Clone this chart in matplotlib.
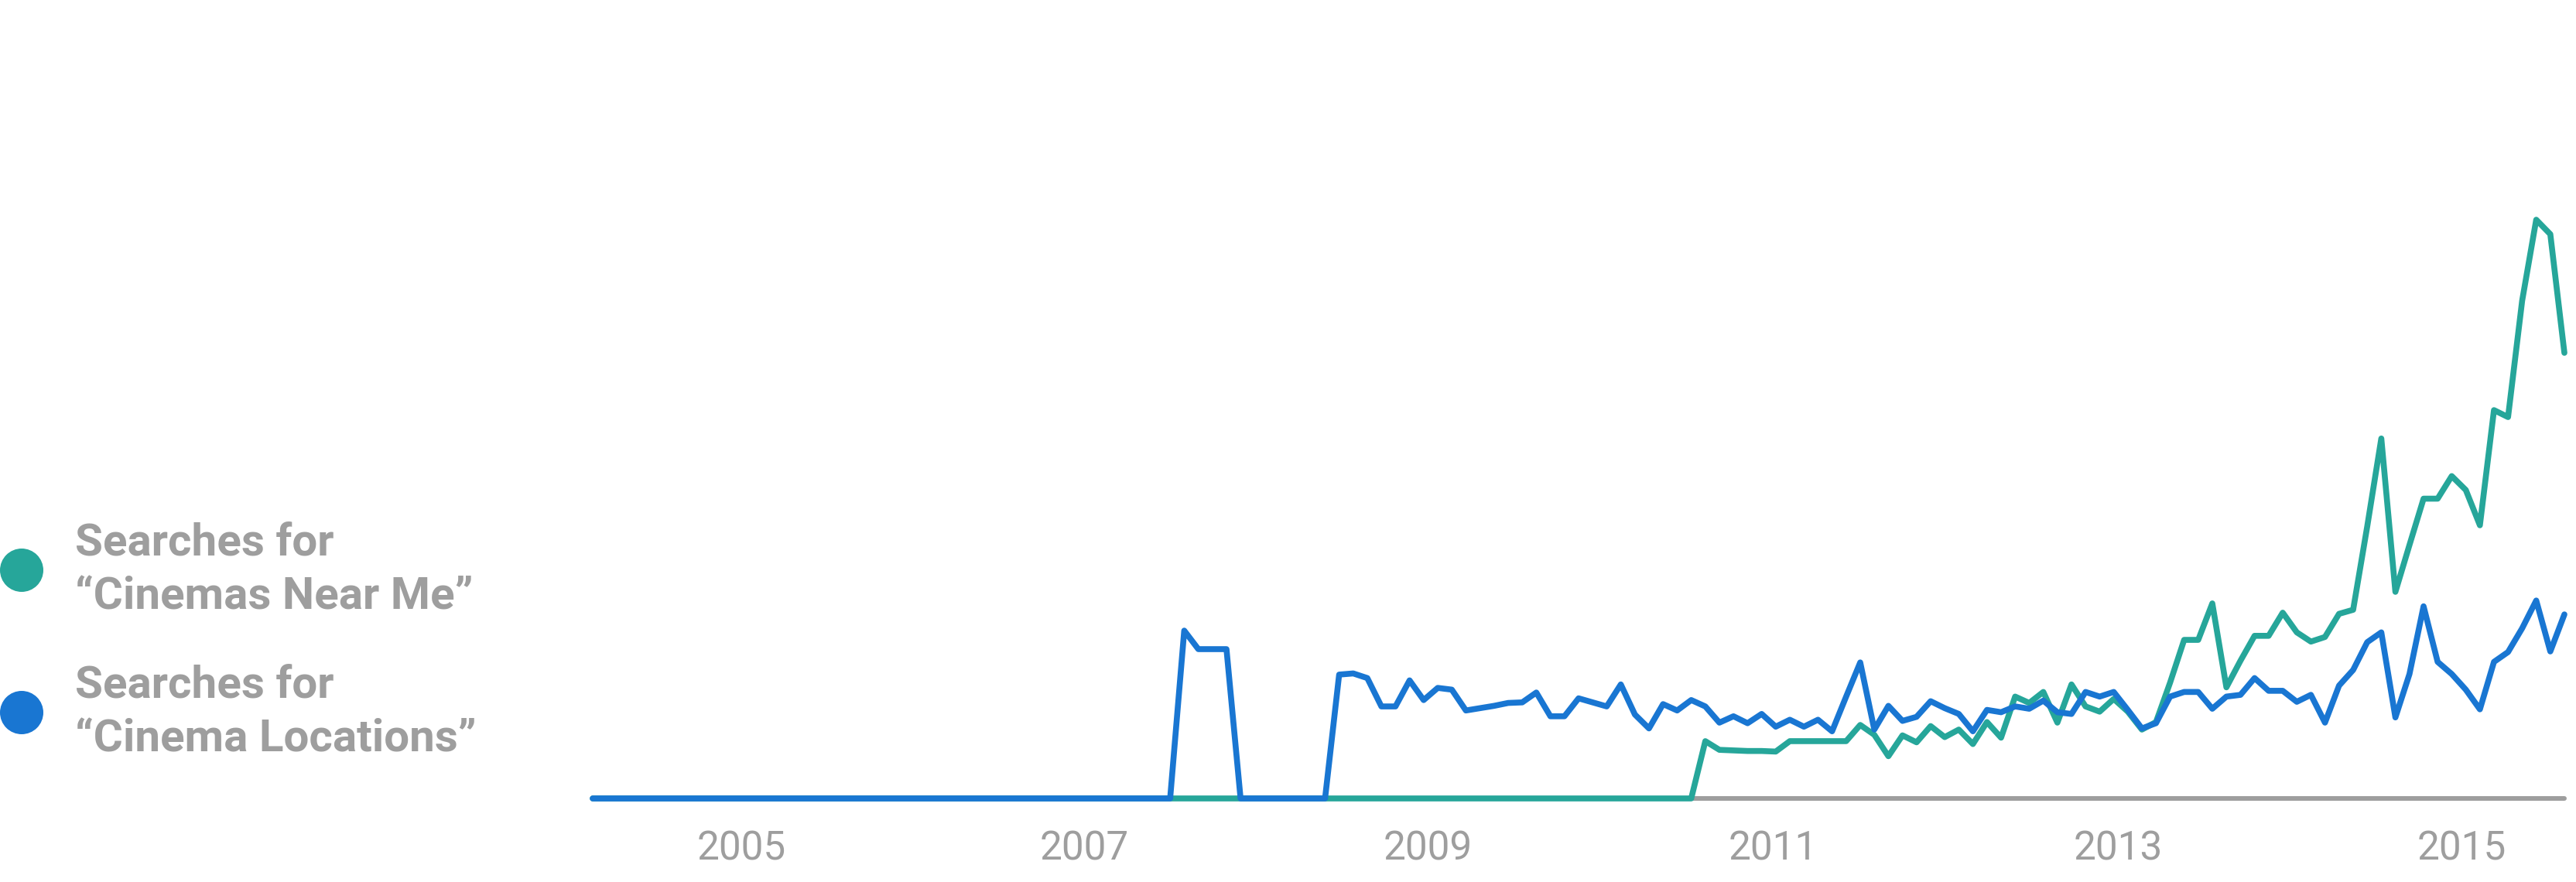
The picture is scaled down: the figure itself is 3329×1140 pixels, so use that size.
import matplotlib
matplotlib.use("Agg")
import matplotlib.pyplot as plt
from matplotlib.patches import Circle
import numpy as np

# ---------------- data (monthly index, 0 = first month shown) ----------------
cinema_locations = [0.0] * 42 + [
    29.0, 25.8, 25.8, 25.8, 0.0, 0.0, 0.0, 0.0, 0.0, 0.0, 0.0,          # 42-52
    21.4, 21.6, 20.8, 15.9, 15.9, 20.4, 17.0, 19.1, 18.8, 15.2,          # 53-62
    15.6, 16.0, 16.5, 16.6, 18.3, 14.2, 14.2, 17.3, 16.6, 15.9,          # 63-72
    19.7, 14.5, 12.1, 16.3, 15.2, 17.0, 15.9, 13.1, 14.2, 13.0,          # 73-82
    14.6, 12.4, 13.6, 12.4, 13.6, 11.6, 17.6, 23.5, 11.9, 16.0,          # 83-92
    13.4, 14.1, 16.8, 15.6, 14.6, 11.6, 15.3, 14.9, 15.9, 15.5,          # 93-102
    16.9, 14.9, 14.6, 18.4, 17.6, 18.4, 15.3, 12.1, 13.0, 17.6,          # 103-112
    18.4, 18.4, 15.5, 17.6, 17.9, 20.8, 18.6, 18.6, 16.7, 17.9,          # 113-122
    13.1, 19.5, 22.2, 27.0, 28.7, 14.0, 21.5, 33.2, 23.6, 21.5,          # 123-132
    18.8, 15.4, 23.6, 25.3, 29.4, 34.2, 25.4, 31.8,                      # 133-140
]

cinemas_near_me = [0.0] * 79 + [
    9.9, 8.4, 8.3, 8.2, 8.2, 8.1, 9.9, 9.9, 9.9, 9.9, 9.9,               # 79-89
    12.7, 11.0, 7.3, 10.9, 9.7, 12.5, 10.6, 11.9, 9.4, 13.2,             # 90-99
    10.5, 17.6, 16.5, 18.4, 13.1, 19.7, 15.9, 15.0, 17.2, 15.0,          # 100-109
    11.9, 13.2, 20.0, 27.4, 27.4, 33.7, 19.2, 23.8, 28.1, 28.1,          # 110-119
    32.1, 28.7, 27.1, 27.9, 31.9, 32.6, 47.0, 62.2, 35.7, 43.8,          # 120-129
    51.8, 51.8, 55.7, 53.3, 47.2, 67.1, 65.9, 86.0, 100.0, 97.5,         # 130-139
    77.0,                                                                # 140
]

months = np.arange(len(cinema_locations))

tick_labels = ["2005", "2007", "2009", "2011", "2013", "2015"]
tick_positions = [10.55, 34.9, 59.3, 83.8, 108.3, 132.7]

legend_labels = [("Searches for", "\u201cCinemas Near Me\u201d"),
                 ("Searches for", "\u201cCinema Locations\u201d")]

# ---------------- style ----------------
GREEN = "#26a69a"
BLUE = "#1976d2"
GREY = "#9e9e9e"

W, H, DPI = 3329, 1140, 100
fig = plt.figure(figsize=(W / DPI, H / DPI), dpi=DPI)
fig.patch.set_facecolor("white")

# pixel mapping of the plot area
x0_px, step_px = 766.0, 18.2          # x pixel of month 0 and per month
base_px, top_px = 1032.0, 284.0       # y pixel (from top) of value 0 and 100
L_px, R_px, B_px, T_px = 700.0, 3329.0, 40.0, 1140.0   # axes box (B/T from bottom)

ax = fig.add_axes([L_px / W, B_px / H, (R_px - L_px) / W, (T_px - B_px) / H])
ax.set_xlim((L_px - x0_px) / step_px, (R_px - x0_px) / step_px)
ppv = (base_px - top_px) / 100.0
base_from_bottom = H - base_px
ax.set_ylim((B_px - base_from_bottom) / ppv, (T_px - base_from_bottom) / ppv)
ax.axis("off")

# baseline
ax.plot([months[0], months[-1]], [0, 0], color=GREY, lw=4.3,
        solid_capstyle="round", zorder=1)
ax.plot(months, cinemas_near_me, color=GREEN, lw=5.5,
        solid_capstyle="round", solid_joinstyle="round", zorder=2)
ax.plot(months, cinema_locations, color=BLUE, lw=5.5,
        solid_capstyle="round", solid_joinstyle="round", zorder=3)

label_y = -(1098 - base_px) / ppv
for pos, lab in zip(tick_positions, tick_labels):
    ax.text(pos, label_y, lab, ha="center", va="center", fontsize=37,
            color=GREY, family="Roboto", clip_on=False)

# ---------------- legend ----------------
lax = fig.add_axes([0, 0, 1, 1], zorder=-1)
lax.set_xlim(0, W)
lax.set_ylim(H, 0)
lax.axis("off")

legend_colors = [GREEN, BLUE]
circle_y = [737, 921]
line1_base = [717, 902]
for (l1, l2), col, cy, b1 in zip(legend_labels, legend_colors, circle_y, line1_base):
    lax.add_patch(Circle((28, cy), 28, color=col, lw=0))
    lax.text(97, b1, l1, ha="left", va="baseline", fontsize=42,
             fontweight="bold", color=GREY, family="Roboto")
    lax.text(97, b1 + 70, l2, ha="left", va="baseline", fontsize=42,
             fontweight="bold", color=GREY, family="Roboto")

fig.savefig("out.png", dpi=DPI, facecolor="white")
